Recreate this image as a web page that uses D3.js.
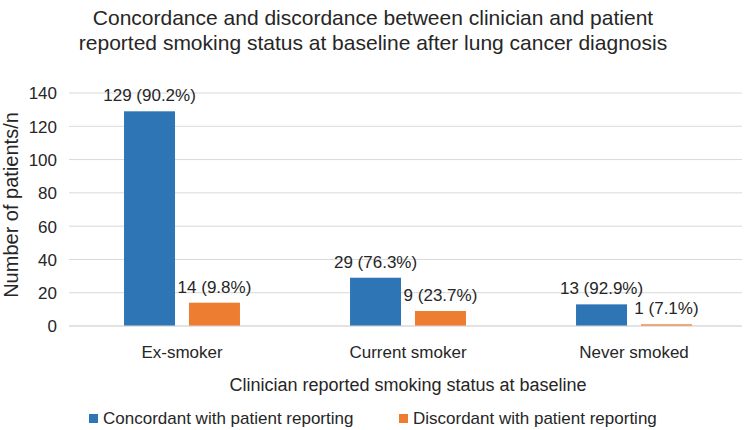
<!DOCTYPE html>
<html>
<head>
<meta charset="utf-8">
<script src="https://cdn.jsdelivr.net/npm/d3@7"></script>
<style>
  html, body { margin: 0; padding: 0; background: #fff; }
  svg { display: block; font-family: "Liberation Sans", Arial, sans-serif; }
</style>
</head>
<body>
<svg id="chart" width="746" height="430"></svg>
<script>
const categories = ["Ex-smoker", "Current smoker", "Never smoked"];
const seriesNames = ["Concordant with patient reporting", "Discordant with patient reporting"];
const concordant = [129, 29, 13];
const discordant = [14, 9, 1];
const concordantPct = ["90.2%", "76.3%", "92.9%"];
const discordantPct = ["9.8%", "23.7%", "7.1%"];
const yTicks = [0, 20, 40, 60, 80, 100, 120, 140];
const titleLines = ["Concordance and discordance between clinician and patient",
                    "reported smoking status at baseline after lung cancer diagnosis"];
const colors = ["#2E75B6", "#ED7D31"];

const svg = d3.select("#chart");
const plotLeft = 69, plotRight = 747, plotTop = 93, plotBottom = 326;

const x0 = d3.scaleBand().domain(categories).range([plotLeft, plotRight])
  .paddingInner(0.487).paddingOuter(0.2435);
const x1 = d3.scaleBand().domain([0, 1]).range([0, x0.bandwidth()]).paddingInner(0.215).paddingOuter(0);
const y = d3.scaleLinear().domain([0, 140]).range([plotBottom, plotTop]);
const plotCenter = (plotLeft + plotRight) / 2;

// gridlines
svg.append("g").selectAll("line").data(yTicks).join("line")
  .attr("x1", plotLeft).attr("x2", 742)
  .attr("y1", d => y(d)).attr("y2", d => y(d))
  .attr("stroke", "#D9D9D9").attr("stroke-width", 1);

// y axis labels
const yAxis = d3.axisLeft(y).tickValues(yTicks).tickSize(0).tickPadding(0);
const ya = svg.append("g").attr("transform", `translate(57,0)`).call(yAxis);
ya.select(".domain").remove();
ya.selectAll("text").attr("font-size", 17).attr("fill", "#262626")
  .attr("font-family", "Liberation Sans, Arial, sans-serif").attr("dy", "0.35em");

// bars
const data = categories.map((c, i) => ({ c, vals: [
  { s: 0, v: concordant[i], lab: `${concordant[i]} (${concordantPct[i]})` },
  { s: 1, v: discordant[i], lab: `${discordant[i]} (${discordantPct[i]})` }
]}));

const groups = svg.append("g").selectAll("g").data(data).join("g")
  .attr("transform", d => `translate(${x0(d.c)},0)`);
groups.selectAll("rect").data(d => d.vals).join("rect")
  .attr("x", d => x1(d.s)).attr("width", x1.bandwidth())
  .attr("y", d => y(d.v)).attr("height", d => y(0) - y(d.v))
  .attr("fill", d => colors[d.s]);
groups.selectAll("text").data(d => d.vals).join("text")
  .attr("x", d => x1(d.s) + x1.bandwidth() / 2)
  .attr("y", d => y(d.v) - 10)
  .attr("text-anchor", "middle").attr("font-size", 17).attr("fill", "#262626")
  .text(d => d.lab);

// x axis baseline
svg.append("line").attr("x1", plotLeft).attr("x2", 742).attr("y1", y(0)).attr("y2", y(0))
  .attr("stroke", "#D9D9D9");

// x axis labels
const xAxis = d3.axisBottom(x0).tickSize(0).tickPadding(0);
const xa = svg.append("g").attr("transform", `translate(0,${y(0)})`).call(xAxis);
xa.select(".domain").remove();
xa.selectAll("text").attr("font-size", 17).attr("fill", "#262626")
  .attr("font-family", "Liberation Sans, Arial, sans-serif").attr("dy", null).attr("y", 32);

// axis titles
svg.append("text").attr("x", plotCenter).attr("y", 391).attr("text-anchor", "middle")
  .attr("font-size", 18).attr("fill", "#262626").text("Clinician reported smoking status at baseline");
svg.append("text").attr("transform", `translate(18,205) rotate(-90)`).attr("text-anchor", "middle")
  .attr("font-size", 20).attr("fill", "#262626").text("Number of patients/n");

// title
svg.append("g").selectAll("text").data(titleLines).join("text")
  .attr("x", 373).attr("y", (d, i) => 25 + i * 25).attr("text-anchor", "middle")
  .attr("font-size", 21).attr("fill", "#262626").text(d => d);

// legend
const legX = [89, 399];
const leg = svg.append("g").selectAll("g").data(seriesNames).join("g")
  .attr("transform", (d, i) => `translate(${legX[i]},414)`);
leg.append("rect").attr("width", 9).attr("height", 9).attr("fill", (d, i) => colors[i]);
leg.append("text").attr("x", 14).attr("y", 10).attr("font-size", 17).attr("fill", "#262626").text(d => d);
</script>
</body>
</html>
